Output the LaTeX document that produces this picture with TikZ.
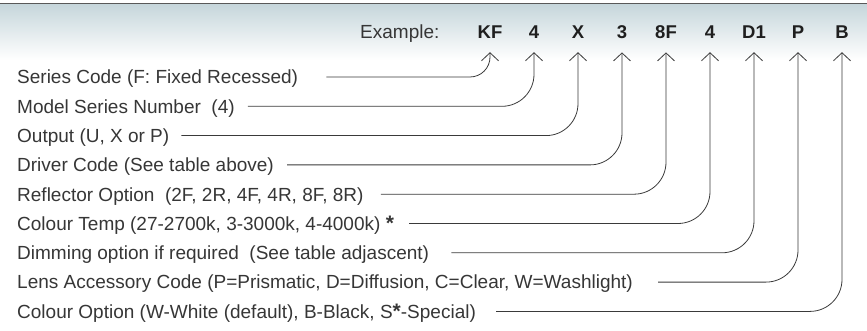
\documentclass[tikz,border=0pt]{standalone}
\usepackage{fontspec}
\setmainfont{Liberation Sans}
\usetikzlibrary{arrows.meta}
\definecolor{txt}{HTML}{363636}
\definecolor{ln}{HTML}{3A3A3A}
\definecolor{bandtop}{HTML}{C6D6DB}
\begin{document}
\begin{tikzpicture}[x=1pt,y=-1pt,
  lbl/.style={anchor=base west, inner sep=0pt, font=\fontsize{19}{21}\selectfont, text=txt},
  codetxt/.style={anchor=base, inner sep=0pt, font=\fontsize{18.5}{21}\selectfont\bfseries, text=black!88},
  conn/.style={draw=ln, line width=0.8pt, rounded corners=32pt,
    -{Straight Barb[length=8pt,width=17pt,line width=0.8pt]}}]
\useasboundingbox (0,0) rectangle (867,331);
% header band
\shade[top color=bandtop, bottom color=white] (0,4) rectangle (867,60);
\draw[line width=1.6pt, draw=black!65] (0,3.5) -- (867,3.5);
% example code
\node[lbl] (ex) at (360,39) {Example:};
\node[codetxt] (c1) at (490,39) {KF};
\node[codetxt] (c2) at (534,39) {4};
\node[codetxt] (c3) at (578,39) {X};
\node[codetxt] (c4) at (622,39) {3};
\node[codetxt] (c5) at (666,39) {8F};
\node[codetxt] (c6) at (710,39) {4};
\node[codetxt] (c7) at (754,39) {D1};
\node[codetxt] (c8) at (798,39) {P};
\node[codetxt] (c9) at (842,39) {B};
% labels
\node[lbl] (l1) at (17,83.8) {Series Code (F: Fixed Recessed)};
\node[lbl] (l2) at (17,113.1) {Model Series Number\ \ (4)};
\node[lbl] (l3) at (17,142.4) {Output (U, X or P)};
\node[lbl] (l4) at (17,171.7) {Driver Code (See table above)};
\node[lbl] (l5) at (17,201.0) {Reflector Option\ \ (2F, 2R, 4F, 4R, 8F, 8R)};
\node[lbl] (l6) at (17,230.3) {Colour Temp (27-2700k, 3-3000k, 4-4000k) {\bfseries\fontsize{21}{21}\selectfont *}};
\node[lbl] (l7) at (17,259.6) {Dimming option if required\ \ (See table adjascent)};
\node[lbl] (l8) at (17,288.9) {Lens Accessory Code (P=Prismatic, D=Diffusion, C=Clear, W=Washlight)};
\node[lbl] (l9) at (17,318.2) {Colour Option (W-White (default), B-Black, S{\bfseries\fontsize{21}{21}\selectfont *}-Special)};
% connector starts (gap after each label, at the caps' mid-height)
\coordinate (s1) at ([xshift=28pt,yshift=6.8pt]l1.base east);
\coordinate (s2) at ([xshift=13pt,yshift=6.8pt]l2.base east);
\coordinate (s3) at ([xshift=12pt,yshift=6.8pt]l3.base east);
\coordinate (s4) at ([xshift=13pt,yshift=6.8pt]l4.base east);
\coordinate (s5) at ([xshift=17pt,yshift=6.8pt]l5.base east);
\coordinate (s6) at ([xshift=15pt,yshift=6.8pt]l6.base east);
\coordinate (s7) at ([xshift=22pt,yshift=6.8pt]l7.base east);
\coordinate (s8) at ([xshift=25pt,yshift=6.8pt]l8.base east);
\coordinate (s9) at ([xshift=20pt,yshift=6.8pt]l9.base east);
% connectors
\draw[conn, rounded corners=20pt] (s1) -| ([yshift=-13pt]c1.south);
\draw[conn] (s2) -| ([yshift=-13pt]c2.south);
\draw[conn] (s3) -| ([yshift=-13pt]c3.south);
\draw[conn] (s4) -| ([yshift=-13pt]c4.south);
\draw[conn] (s5) -| ([yshift=-13pt]c5.south);
\draw[conn] (s6) -| ([yshift=-13pt]c6.south);
\draw[conn] (s7) -| ([yshift=-13pt]c7.south);
\draw[conn] (s8) -| ([yshift=-13pt]c8.south);
\draw[conn] (s9) -| ([yshift=-13pt]c9.south);
\end{tikzpicture}
\end{document}
